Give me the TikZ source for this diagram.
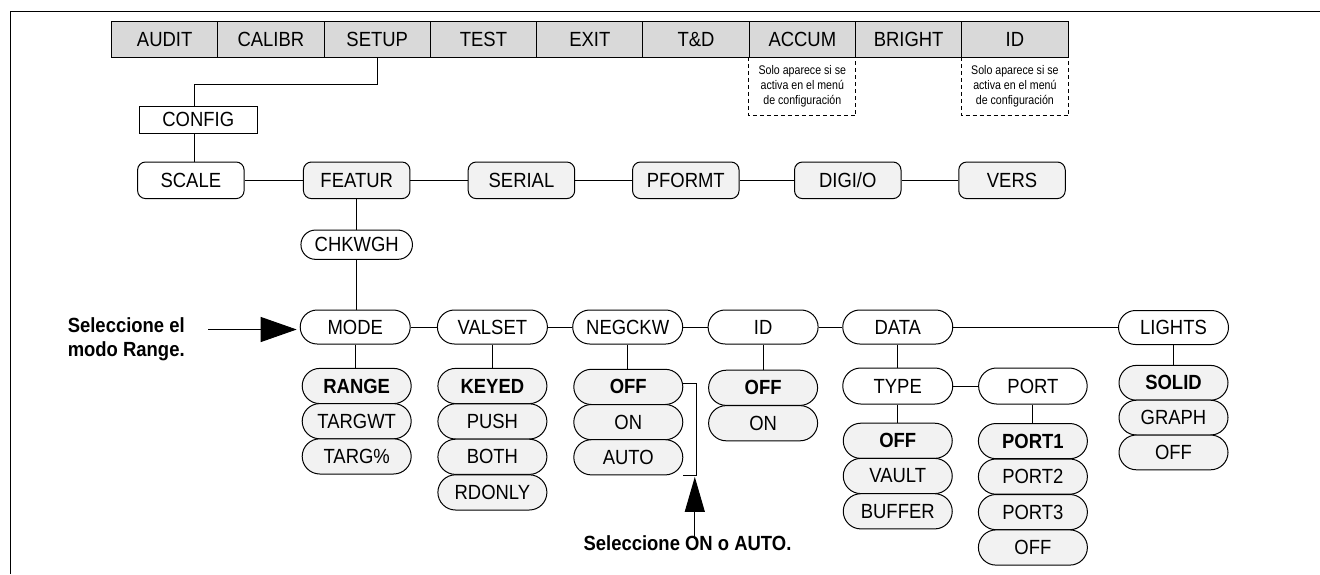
\documentclass[tikz,border=0pt]{standalone}
\usepackage{fontspec}
\setmainfont[FakeStretch=0.9]{Liberation Sans}
\newfontfamily\notefont[FakeStretch=0.85]{Liberation Sans}
\usetikzlibrary{arrows.meta}
\tikzset{
  lbl/.style={font=\fontsize{20.5}{22}\selectfont},
  topbox/.style={draw, fill=black!15, minimum width=106.28pt, minimum height=35.6pt, inner sep=0pt, lbl},
  notebox/.style={minimum width=106.28pt, minimum height=57.7pt, inner sep=0pt, align=center, font=\notefont\fontsize{12.5}{15}\selectfont},
  notedash/.style={dash pattern=on 4pt off 3pt},
  cfgbox/.style={draw, fill=white, minimum width=117.9pt, minimum height=27.3pt, inner sep=0pt, lbl},
  menubox/.style={draw, rounded corners=8pt, fill=black!5, minimum width=106.5pt, minimum height=36.6pt, inner sep=0pt, lbl},
  pill/.style={draw, rounded corners=17pt, fill=white, minimum width=110pt, minimum height=34pt, inner sep=0pt, lbl},
  val/.style={draw, rounded corners=17.6pt, fill=black!5, minimum width=109pt, minimum height=35.2pt, inner sep=0pt, lbl},
  sel/.style={val, font=\fontsize{20.5}{22}\selectfont\bfseries},
  callout/.style={font=\fontsize{20.5}{24.3}\selectfont\bfseries, inner sep=0pt},
}
\begin{document}
\begin{tikzpicture}[x=1pt, y=-1pt, line width=1pt]
\useasboundingbox (0,0) rectangle (1320,574);
% frame
\draw[line width=1.2pt] (10.5,574) -- (10.5,11.7) -- (1320,11.7);

% top bar
\node[topbox] (audit)  at (164.64,39.5) {AUDIT};
\node[topbox] (calibr) at (270.92,39.5) {CALIBR};
\node[topbox] (setup)  at (377.20,39.5) {SETUP};
\node[topbox] (test)   at (483.48,39.5) {TEST};
\node[topbox] (exit)   at (589.76,39.5) {EXIT};
\node[topbox] (td)     at (696.04,39.5) {T\&D};
\node[topbox] (accum)  at (802.32,39.5) {ACCUM};
\node[topbox] (bright) at (908.60,39.5) {BRIGHT};
\node[topbox] (idtop)  at (1014.88,39.5) {ID};

% notes
\node[notebox] (note1) at (802.32,86.2) {Solo aparece si se\\activa en el menú\\de configuración};
\node[notebox] (note2) at (1014.88,86.2) {Solo aparece si se\\activa en el menú\\de configuración};
\draw[notedash] (note1.north west) -- (note1.south west) -- (note1.south east) -- (note1.north east);
\draw[notedash] (note2.north west) -- (note2.south west) -- (note2.south east) -- (note2.north east);

% config
\node[cfgbox] (config) at (198.25,119.65) {CONFIG};
\draw (setup.south) -- ++(0,26.7) -| ([xshift=-3.85pt]config.north);

% setup row
\node[menubox, fill=white] (scale) at (190.85,180.3) {SCALE};
\node[menubox] (featur) at (356.7,180.3) {FEATUR};
\node[menubox] (serial) at (521.45,180.3) {SERIAL};
\node[menubox] (pformt) at (685.8,180.3) {PFORMT};
\node[menubox] (digio)  at (847.75,180.3) {DIGI/O};
\node[menubox] (vers)   at (1012,180.3) {VERS};
\draw ([xshift=-3.85pt]config.south) -- ([xshift=-3.85pt]config.south |- scale.north);
\draw (scale.east) -- (featur.west);
\draw (featur.east) -- (serial.west);
\draw (serial.east) -- (pformt.west);
\draw (pformt.east) -- (digio.west);
\draw (digio.east) -- (vers.west);

% chkwgh
\node[pill, minimum width=111.5pt, minimum height=29.3pt, rounded corners=14.6pt] (chk) at (356.7,244.7) {CHKWGH};
\draw (featur.south) -- (chk.north);

% header row
\node[pill] (mode)   at (355.2,327) {MODE};
\node[pill] (valset) at (492.4,327) {VALSET};
\node[pill] (negckw) at (627.7,327) {NEGCKW};
\node[pill] (idh)    at (763.1,327) {ID};
\node[pill] (data)   at (897.75,327) {DATA};
\node[pill] (lights) at (1173.5,327.5) {LIGHTS};
\draw (chk.south) -- (chk.south |- mode.north);
\draw (mode.east) -- (valset.west);
\draw (valset.east) -- (negckw.west);
\draw (negckw.east) -- (idh.west);
\draw (idh.east) -- (data.west);
\draw (data.east) -- (data.east -| lights.west);

% MODE values
\node[sel] (range)  at (356.7,386.0) {RANGE};
\node[val] (targwt) at (356.7,421.2) {TARGWT};
\node[val] (targp)  at (356.7,456.4) {TARG\%};
\draw (mode.south) -- (mode.south |- range.north);

% VALSET values
\node[sel] (keyed)  at (492.4,386.0) {KEYED};
\node[val] (push)   at (492.4,421.4) {PUSH};
\node[val] (both)   at (492.4,456.8) {BOTH};
\node[val] (rdonly) at (492.4,492.4) {RDONLY};
\draw (valset.south) -- (keyed.north);

% NEGCKW values
\node[sel] (negoff)  at (628.3,386.9) {OFF};
\node[val] (negon)   at (628.3,422.1) {ON};
\node[val] (negauto) at (628.3,457.3) {AUTO};
\draw (negckw.south) -- (negckw.south |- negoff.north);

% ID values
\node[sel] (idoff) at (763.1,387.8) {OFF};
\node[val] (idon)  at (763.1,423.2) {ON};
\draw (idh.south) -- (idoff.north);

% DATA
\node[pill, minimum height=36pt, rounded corners=18pt] (type) at (897.75,386) {TYPE};
\node[pill, minimum height=36pt, rounded corners=18pt, minimum width=108.6pt] (port) at (1032.9,386) {PORT};
\draw (data.south) -- (type.north);
\draw (type.east) -- (port.west);

\node[sel] (toff)    at (897.75,440.8) {OFF};
\node[val] (tvault)  at (897.75,476.0) {VAULT};
\node[val] (tbuffer) at (897.75,511.3) {BUFFER};
\draw (type.south) -- (toff.north);

\node[sel] (p1)   at (1032.9,441.1) {PORT1};
\node[val] (p2)   at (1032.9,476.6) {PORT2};
\node[val] (p3)   at (1032.9,512.1) {PORT3};
\node[val] (poff) at (1032.9,547.5) {OFF};
\draw (port.south) -- (p1.north);

% LIGHTS values
\node[sel, minimum height=34.8pt, rounded corners=17.4pt] (solid) at (1173.5,382.8) {SOLID};
\node[val, minimum height=34.8pt, rounded corners=17.4pt] (graph) at (1173.5,417.6) {GRAPH};
\node[val, minimum height=34.8pt, rounded corners=17.4pt] (loff)  at (1173.5,452.4) {OFF};
\draw (lights.south) -- (solid.north);

% callout 1
\node[callout, anchor=west, align=left] (c1) at (67.3,339) {Seleccione el\\modo Range.};
\coordinate (a1) at (208.3,329.5);
\draw[-{Triangle[length=36pt,width=25pt]}] (a1) -- ([xshift=-3pt]a1 -| mode.west);

% bracket and callout 2
\draw ([yshift=3pt]negoff.east) -- ++(13,0) coordinate (bk) -- (bk |- negauto.south) coordinate (bkb) -- ++(-13,0);
\node[callout] (c2) at (687.5,543.3) {Seleccione ON o AUTO.};
\coordinate (a2) at ([xshift=-1.5pt]bkb |- c2.north);
\draw[-{Triangle[length=35pt,width=20pt]}] ([yshift=-4pt]a2) -- ([xshift=-1.5pt,yshift=-1.5pt]bkb);
\end{tikzpicture}
\end{document}
